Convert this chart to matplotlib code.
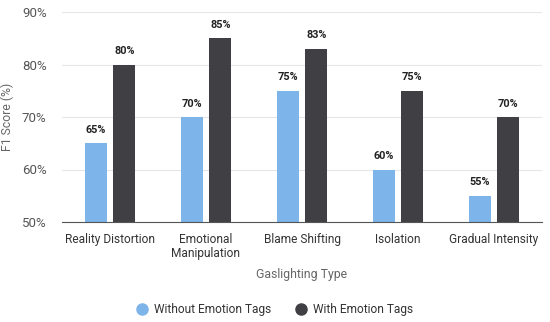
import numpy as np
import matplotlib.pyplot as plt
from matplotlib.lines import Line2D

categories = ['Reality Distortion', 'Emotional\nManipulation', 'Blame Shifting', 'Isolation', 'Gradual Intensity']
without_tags = [65, 70, 75, 60, 55]
with_tags = [80, 85, 83, 75, 70]
yticks = [50, 60, 70, 80, 90]

light = '#7db4ea'
dark = '#404044'

plt.rcParams['font.family'] = ['Roboto', 'DejaVu Sans']

fig = plt.figure(figsize=(5.5, 3.22), dpi=100)
ax = fig.add_axes([62 / 550, 1 - 222 / 322, 480 / 550, 210 / 322])

x = np.arange(len(categories))
w = 0.23
off = 0.15
b1 = ax.bar(x - off, without_tags, w, color=light, zorder=3)
b2 = ax.bar(x + off, with_tags, w, color=dark, zorder=3)

for bars, vals in ((b1, without_tags), (b2, with_tags)):
    for r, v in zip(bars, vals):
        ax.text(r.get_x() + r.get_width() / 2, v + 1.6, f'{v}%', ha='center', va='bottom',
                fontsize=7.8, fontweight='bold', color='#222222')

ax.set_xlim(-0.5, len(categories) - 0.5)
ax.set_ylim(50, 90)
ax.set_yticks(yticks)
ax.set_yticklabels([f'{t}%' for t in yticks], fontsize=9.5, color='#555555')
ax.set_xticks(x)
ax.set_xticklabels(categories, fontsize=8.6, color='#333333', linespacing=1.1)
ax.tick_params(length=0, pad=8)
ax.tick_params(axis='y', pad=11)
ax.grid(axis='y', color='#e6e6e6', linewidth=0.8, zorder=0)
for s in ['top', 'right', 'left']:
    ax.spines[s].set_visible(False)
ax.spines['bottom'].set_color('#555555')
ax.spines['bottom'].set_zorder(4)

ax.set_xlabel('Gaslighting Type', fontsize=8.8, color='#666666', labelpad=6)
ax.set_ylabel('F1 Score (%)', fontsize=8.8, color='#666666', labelpad=6)

handles = [Line2D([], [], marker='o', linestyle='none', markersize=8, color=light),
           Line2D([], [], marker='o', linestyle='none', markersize=8, color=dark)]
fig.legend(handles, ['Without Emotion Tags', 'With Emotion Tags'], loc='center',
           bbox_to_anchor=(0.5, 1 - 310 / 322), ncol=2, frameon=False, fontsize=8.6,
           handlelength=1.0, columnspacing=2.0, handletextpad=0.5, labelcolor='#333333')

fig.savefig('out.png', dpi=100)
